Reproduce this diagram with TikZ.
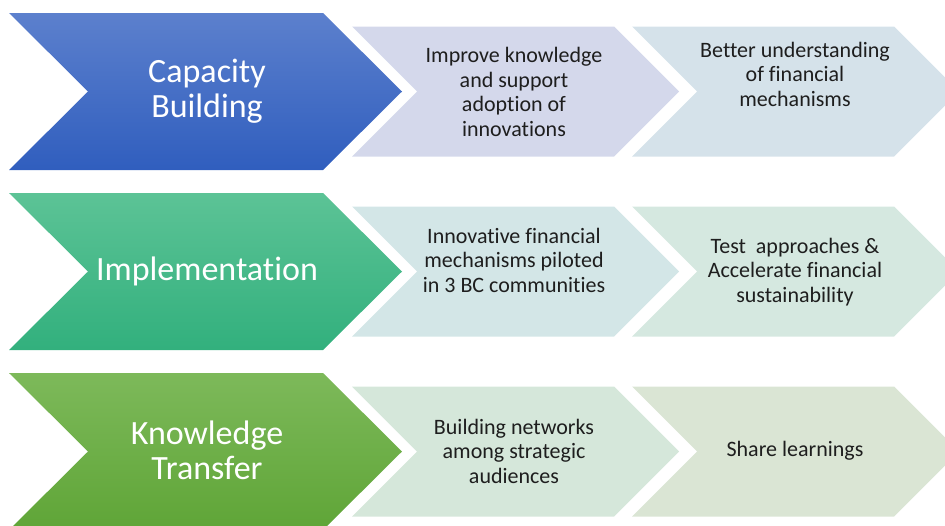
\documentclass[tikz,border=0pt]{standalone}
\usepackage{fontspec}
\setmainfont[Ligatures={NoCommon}]{Carlito}
\definecolor{blueTop}{HTML}{5C80CD}
\definecolor{blueBot}{HTML}{305EBE}
\definecolor{tealTop}{HTML}{5CC396}
\definecolor{tealBot}{HTML}{32B07D}
\definecolor{grnTop}{HTML}{7DB95A}
\definecolor{grnBot}{HTML}{5FA537}
\definecolor{lA}{HTML}{D4D8EB}
\definecolor{lB}{HTML}{D5E2EA}
\definecolor{lC}{HTML}{D3E6E7}
\definecolor{lD}{HTML}{D5E8E0}
\definecolor{lE}{HTML}{D5E7DA}
\definecolor{lF}{HTML}{DAE5D4}
\definecolor{txtDark}{HTML}{1E1E1E}
\tikzset{
  bigtext/.style={text=white, align=center, font=\fontsize{34}{35}\selectfont, inner sep=0pt},
  smalltext/.style={text=txtDark, align=center, font=\fontsize{22}{24.5}\selectfont, inner sep=0pt},
}
\newcommand{\bigchev}[3]{% y-offset, top colour, bottom colour
  \shade[top color=#2, bottom color=#3, shift={(0,#1)}]
    (9,13) -- (323,13) -- (402,91.5) -- (323,170) -- (9,170) -- (88,91.5) -- cycle;}
\newcommand{\litchev}[3]{% x-offset, y-offset, colour
  \fill[#3, shift={(#1,#2)}]
    (352,26.5) -- (614,26.5) -- (679,91.5) -- (614,156.5) -- (352,156.5) -- (417,91.5) -- cycle;}
\begin{document}
\begin{tikzpicture}[x=1pt, y=-1pt]
  \useasboundingbox (0,0) rectangle (945,525);
  \clip (0,0) rectangle (945,525);
  % row 1
  \bigchev{0}{blueTop}{blueBot}
  \litchev{0}{0}{lA}
  \litchev{280}{0}{lB}
  % row 2
  \bigchev{180}{tealTop}{tealBot}
  \litchev{0}{180}{lC}
  \litchev{280}{180}{lD}
  % row 3
  \bigchev{360}{grnTop}{grnBot}
  \litchev{0}{360}{lE}
  \litchev{280}{360}{lF}
  % texts
  \node[bigtext] (cap) at (207,91) {Capacity\\Building};
  \node[bigtext] (imp) at (207,271) {Implementation};
  \node[bigtext] (kno) at (207,450) {Knowledge\\Transfer};
  \node[smalltext] (capA) at (514,92) {Improve knowledge\\and support\\adoption of\\innovations};
  \node[smalltext] (capB) at (795,74) {Better understanding\\of financial\\mechanisms};
  \node[smalltext] (impA) at (514,260) {Innovative financial\\mechanisms piloted\\in 3 BC communities};
  \node[smalltext] (impB) at (795,272) {Test~~approaches \&\\Accelerate financial\\sustainability};
  \node[smalltext] (knoA) at (514,451) {Building networks\\among strategic\\audiences};
  \node[smalltext] (knoB) at (795,451) {Share learnings};
\end{tikzpicture}
\end{document}
